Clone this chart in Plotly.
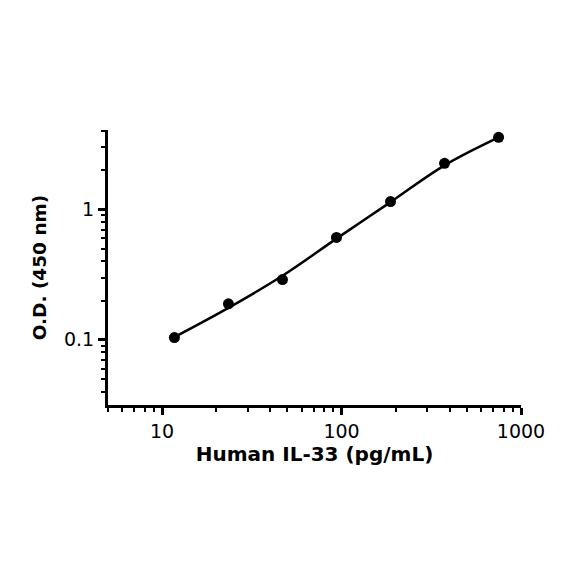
import plotly.graph_objects as go

# Standard points
conc = [11.72, 23.44, 46.88, 93.75, 187.5, 375, 750]
od = [0.104, 0.189, 0.290, 0.610, 1.15, 2.26, 3.58]

# Fitted curve samples
curve_x = [11.72, 23.44, 46.88, 93.75, 187.5, 375, 750]
curve_y = [0.105, 0.176, 0.310, 0.598, 1.14, 2.18, 3.57]

x_ticks = [10, 100, 1000]
x_ticktext = ["10", "100", "1000"]
y_ticks = [0.1, 1]
y_ticktext = ["0.1", "1"]

fig = go.Figure()
fig.add_trace(go.Scatter(x=curve_x, y=curve_y, mode="lines",
                         line=dict(color="black", width=2.5, shape="spline", smoothing=1.0),
                         hoverinfo="skip", showlegend=False))
fig.add_trace(go.Scatter(x=conc, y=od, mode="markers",
                         marker=dict(color="black", size=11),
                         showlegend=False))

font_fam = "DejaVu Sans"
fig.update_layout(
    width=584, height=584,
    margin=dict(l=100, r=71, t=122, b=187),
    paper_bgcolor="white", plot_bgcolor="white",
    font=dict(family=font_fam, color="black"),
    xaxis=dict(type="log", range=[0.699, 3.0],
               tickvals=x_ticks, ticktext=x_ticktext,
               ticks="outside", ticklen=7, tickwidth=2.5, tickcolor="black",
               showline=True, linewidth=3, linecolor="black",
               showgrid=False, zeroline=False,
               tickfont=dict(size=19, family=font_fam),
               minor=dict(ticks="outside", ticklen=4, tickwidth=2, tickcolor="black",
                          dtick="D1", showgrid=False),
               title=dict(text="<b>Human IL-33 (pg/mL)</b>", font=dict(size=20, family=font_fam), standoff=4)),
    yaxis=dict(type="log", range=[-1.5, 0.61],
               tickvals=y_ticks, ticktext=y_ticktext,
               ticks="outside", ticklen=7, tickwidth=2.5, tickcolor="black",
               showline=True, linewidth=3, linecolor="black",
               showgrid=False, zeroline=False,
               tickfont=dict(size=19, family=font_fam),
               minor=dict(ticks="outside", ticklen=4, tickwidth=2, tickcolor="black",
                          dtick="D1", showgrid=False),
               title=dict(text="<b>O.D. (450 nm)</b>", font=dict(size=18.5, family=font_fam), standoff=13)),
)

fig.write_html("out.html")
